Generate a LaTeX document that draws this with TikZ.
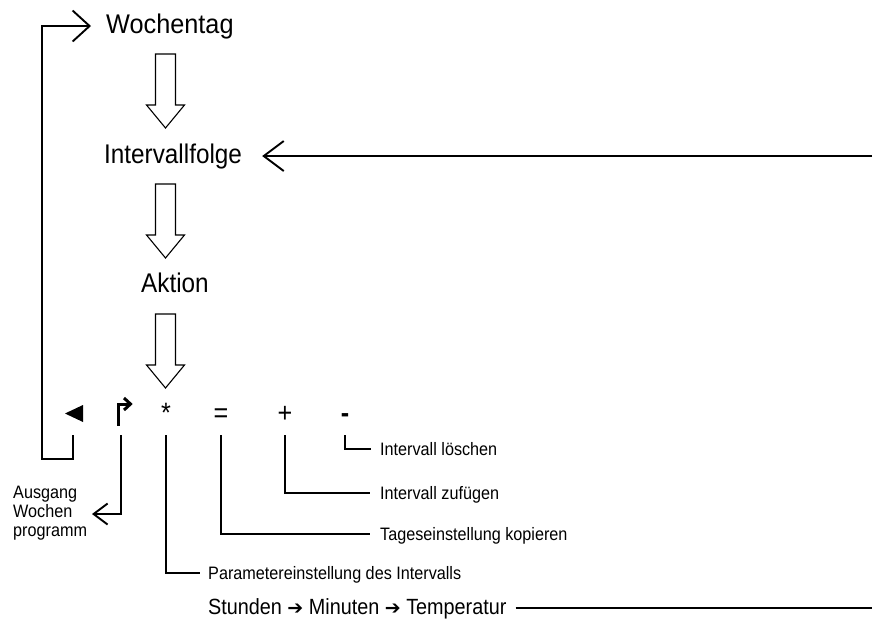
\documentclass[tikz,border=0pt]{standalone}
\usepackage{graphicx}
\usepackage{fontspec}
\setmainfont{Liberation Sans}[FakeStretch=0.9]
\newfontfamily\dejavu{DejaVu Sans}
\usetikzlibrary{arrows.meta}
\newcommand\myBlockArrow[1]{\draw[blockarrow] (155.5,#1) -- (175.5,#1) -- (175.5,#1+51) -- (184.5,#1+51) -- (165.5,#1+74) -- (146.5,#1+51) -- (155.5,#1+51) -- cycle;}
\begin{document}
\begin{tikzpicture}[x=1pt,y=-1pt,
  big/.style={font=\fontsize{27}{32}\selectfont, inner sep=0pt, anchor=base west},
  small/.style={font=\fontsize{18}{19}\selectfont, inner sep=0pt, anchor=base west},
  lbl/.style={font=\fontsize{18}{19}\selectfont, inner sep=0pt, anchor=west, text height=12.9pt, text depth=0pt},
  sym/.style={font=\fontsize{28}{32}\selectfont, inner sep=0pt, anchor=base},
  leader/.style={line width=1.9pt},
  longarrow/.style={line width=1.9pt, -{Straight Barb[length=20pt,width=30pt]}},
  blockarrow/.style={line width=1.1pt, fill=white},
  arr/.style={font=\dejavu\fontsize{20}{24}\selectfont},
]
\useasboundingbox (0,0) rectangle (873,621);

% main chain
\node[big] (woch) at (106,33) {\scalebox{1.04}[1]{Wochentag}};
\node[big] (intv) at (104,163) {Intervallfolge};
\node[big] (akt) at (141,292) {Aktion};

\myBlockArrow{54}
\myBlockArrow{184}
\myBlockArrow{314}

% long return arrow to Intervallfolge
\draw[longarrow, shorten >=20pt] (intv.east -| 872,0) -- (intv.east);

% symbol row
\fill (65,413.5) -- (83,405) -- (83,422) -- cycle;
\coordinate (tri) at (73,435);
\draw[line width=3pt, line join=miter] (118,425.5) -- (118,404) -- (128,404);
\draw[line width=3pt, line join=miter] (124,398) -- (130.5,404) -- (124,410);
\coordinate (bent) at (121,435);
\node[sym] (star) at (166,422) {*};
\node[sym] (eq) at (221,422) {=};
\node[sym, font=\fontsize{28}{32}\selectfont\bfseries] (minus) at (345,422) {-};
\node[sym] (plus) at (285,422) {+};

% labels
\node[small, text width=80pt, align=left] (aus) at (13,498) {Ausgang\\Wochen\\programm};
\coordinate (ausArr) at (92,514);
\node[lbl] (loe) at (380,449) {Intervall löschen};
\node[lbl] (zuf) at (380,493) {Intervall zufügen};
\node[lbl] (tag) at (380,534) {Tageseinstellung kopieren};
\node[lbl] (par) at (208,573) {Parametereinstellung des Intervalls};
\node[font=\fontsize{22}{26}\selectfont, inner sep=0pt, anchor=base west] (std) at (208,614)
  {Stunden {\dejavu\fontsize{19}{24}\selectfont ➔} Minuten {\dejavu\fontsize{19}{24}\selectfont ➔} Temperatur};

% leaders
\draw[leader, -{Straight Barb[length=17pt,width=31pt]}, shorten >=15pt] (tri) |- (42,459) |- (woch.west);
\draw[leader, -{Straight Barb[length=14pt,width=21pt]}] (bent) |- (ausArr);
\draw[leader, shorten >=8pt] ([yshift=-13pt]star.south) |- (par.west);
\draw[leader, shorten >=10pt] ([yshift=-13pt]eq.south) |- (tag.west);
\draw[leader, shorten >=10pt] ([yshift=-13pt]plus.south) |- (zuf.west);
\draw[leader, shorten >=9pt] ([yshift=-13pt]minus.south) |- (loe.west);
\draw[line width=1.9pt] ([xshift=9pt]std.east) -- (std.east -| 872,0);
\end{tikzpicture}
\end{document}
